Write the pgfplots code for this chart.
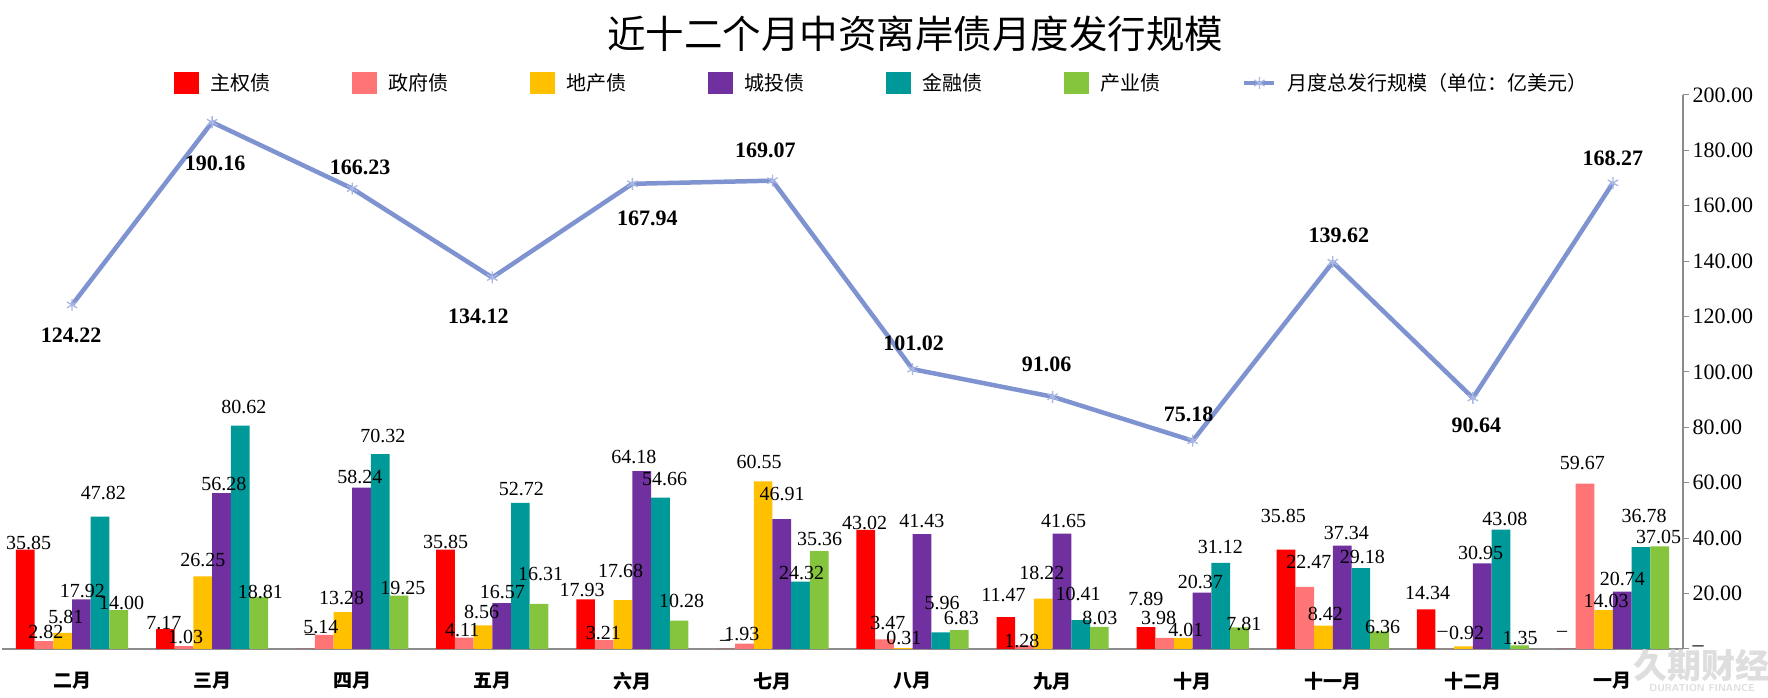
\documentclass[border=0pt]{standalone}
\usepackage{fontspec}
\setmainfont{Liberation Serif}
\newfontfamily\cjk{Noto Sans CJK SC}
\usepackage{pgfplots}
\usepackage{pgfplotstable}
\pgfplotsset{compat=1.18}

\definecolor{cZQ}{HTML}{FF0000}
\definecolor{cZF}{HTML}{FF7474}
\definecolor{cDC}{HTML}{FFC000}
\definecolor{cCT}{HTML}{7030A0}
\definecolor{cJR}{HTML}{009999}
\definecolor{cCY}{HTML}{84C53D}
\definecolor{cLine}{HTML}{7F93D1}
\definecolor{cMark}{HTML}{A9B7E3}
\definecolor{cAxis}{HTML}{8C8C8C}

% columns: month index, value, label text, label offset x / y (pt)
\pgfplotstableread{
x y lab dx dy
0 35.85 35.85 3.4 6.4
1 7.17 7.17 -1.5 5.8
2 0 -- 4.7 12.3
3 35.85 35.85 0 8
4 17.93 17.93 -3.6 9.3
5 0 -- -0.6 5.7
6 43.02 43.02 -1.3 7.1
7 11.47 11.47 -2.4 22.2
8 7.89 7.89 0 27.8
9 35.85 35.85 -2.7 33.7
10 14.34 14.34 1.6 16.6
11 0 -- -4 15
}\tabZQ
\pgfplotstableread{
x y lab dx dy
0 2.82 2.82 1.9 8.9
1 1.03 1.03 1.6 9.4
2 5.14 5.14 -3.3 8
3 4.11 4.11 -2 7.6
4 3.21 3.21 -1 6.8
5 1.93 1.93 -2.5 9.7
6 3.47 3.47 3.3 16.7
7 1.28 1.28 -2.7 4.8
8 3.98 3.98 -6 19.7
9 22.47 22.47 4.2 25.1
10 0 -- -2.2 15
11 59.67 59.67 -2.5 20.4
}\tabZF
\pgfplotstableread{
x y lab dx dy
0 5.81 5.81 3.1 16.2
1 26.25 26.25 0 16.3
2 13.28 13.28 -1.3 13.9
3 8.56 8.56 -1.3 13
4 17.68 17.68 -2.5 29.3
5 60.55 60.55 -4 19.6
6 0.31 0.31 0.7 9.8
7 18.22 18.22 -1.5 25.2
8 4.01 4.01 2.6 7.9
9 8.42 8.42 1.9 11.7
10 0.92 0.92 3.1 13.2
11 14.03 14.03 2.4 9.4
}\tabDC
\pgfplotstableread{
x y lab dx dy
0 17.92 17.92 0.9 8.4
1 56.28 56.28 2.5 9.1
2 58.24 58.24 -1.7 11
3 16.57 16.57 0.7 10.8
4 64.18 64.18 -7.8 14.5
5 46.91 46.91 0.3 25.1
6 41.43 41.43 0 13.2
7 41.65 41.65 1.6 12.9
8 20.37 20.37 -1.6 11
9 37.34 37.34 4.2 12.3
10 30.95 30.95 -1.5 10.6
11 20.74 20.74 0 12.2
}\tabCT
\pgfplotstableread{
x y lab dx dy
0 47.82 47.82 3.2 23.2
1 80.62 80.62 3.7 18.4
2 70.32 70.32 2.6 18.5
3 52.72 52.72 1.1 13.7
4 54.66 54.66 4.1 18.6
5 24.32 24.32 1.1 8.3
6 5.96 5.96 1.6 29.8
7 10.41 10.41 -2.6 26.2
8 31.12 31.12 -0.5 16.1
9 29.18 29.18 1.5 11.5
10 43.08 43.08 3.9 10.4
11 36.78 36.78 3.2 31.1
}\tabJR
\pgfplotstableread{
x y lab dx dy
0 14.00 14.00 2.9 7.5
1 18.81 18.81 1.4 5.2
2 19.25 19.25 3.8 7.4
3 16.31 16.31 1.6 29.5
4 10.28 10.28 2.6 19.8
5 35.36 35.36 0.4 12.1
6 6.83 6.83 2 11.8
7 8.03 8.03 0.5 8.5
8 7.81 7.81 4.5 3.4
9 6.36 6.36 3 4.1
10 1.35 1.35 0.4 7
11 37.05 37.05 -1 9.1
}\tabCY
\pgfplotstableread{
x y lab dx dy
0 124.22 124.22 -1 -30
1 190.16 190.16 3 -41
2 166.23 166.23 8 21
3 134.12 134.12 -14 -39
4 167.94 167.94 15 -34.5
5 169.07 169.07 -7 30
6 101.02 101.02 1 26
7 91.06 91.06 -6 32
8 75.18 75.18 -4 26.7
9 139.62 139.62 6 27
10 90.64 90.64 3.5 -27
11 168.27 168.27 0 25
}\tabTotal

\pgfplotsset{
  sqlegend/.style={legend image code/.code={\fill[##1] (0pt,-11pt) rectangle (25pt,11pt);}},
  linelegend/.style={legend image code/.code={\draw[mark repeat=2, mark phase=2, ##1]
      plot coordinates {(-2.5pt,0pt) (12.5pt,0pt) (27.5pt,0pt)};}},
}
\def\ldx{0}\def\ldy{0}

\begin{document}
\begin{tikzpicture}
\path[use as bounding box] (0pt,0pt) rectangle (1768pt,698pt);
\node[font=\cjk\fontsize{38.5}{40}\selectfont] at (915pt,664pt) {近十二个月中资离岸债月度发行规模};
\begin{axis}[
  at={(2pt,49pt)}, anchor=south west,
  scale only axis, width=1681pt, height=554pt,
  xmin=-0.5, xmax=11.5, ymin=0, ymax=200,
  ybar=0pt, bar width=18.7pt,
  axis x line*=bottom, axis y line*=right,
  axis line style={draw=cAxis, line width=1.2pt, -},
  xtick={0,...,11},
  xticklabels={二月,三月,四月,五月,六月,七月,八月,九月,十月,十一月,十二月,一月},
  xtick style={draw=none},
  xticklabel style={font=\cjk\bfseries\fontsize{19}{22}\selectfont, anchor=center, yshift=-26pt},
  ytick={0,20,...,200},
  yticklabels={--,20.00,40.00,60.00,80.00,100.00,120.00,140.00,160.00,180.00,200.00},
  ytick style={draw=cAxis, line width=1pt},
  tick align=outside, major tick length=6pt,
  yticklabel style={font=\fontsize{22}{24}\selectfont, anchor=west},
  clip=false,
  nodes near coords, point meta=explicit symbolic,
  visualization depends on={\thisrow{dx} \as \ldx},
  visualization depends on={\thisrow{dy} \as \ldy},
  every node near coord/.append style={font=\fontsize{20}{22}\selectfont, anchor=center,
    xshift=\ldx pt, yshift=\ldy pt, inner sep=0pt, text=black},
  legend entries={主权债,政府债,地产债,城投债,金融债,产业债,月度总发行规模（单位：亿美元）},
  legend style={at={(axis description cs:0.1023,1.0217)}, anchor=west, draw=none, fill=none,
    legend columns=-1, inner sep=0pt, font=\cjk\fontsize{20}{22}\selectfont,
    nodes={inner sep=0pt},
    /tikz/every odd column/.append style={column sep=11pt},
    /tikz/every even column/.append style={column sep=82pt}},
]
\addplot[fill=cZQ, draw=none, sqlegend] table[x=x, y=y, meta=lab] {\tabZQ};
\addplot[fill=cZF, draw=none, sqlegend] table[x=x, y=y, meta=lab] {\tabZF};
\addplot[fill=cDC, draw=none, sqlegend] table[x=x, y=y, meta=lab] {\tabDC};
\addplot[fill=cCT, draw=none, sqlegend] table[x=x, y=y, meta=lab] {\tabCT};
\addplot[fill=cJR, draw=none, sqlegend] table[x=x, y=y, meta=lab] {\tabJR};
\addplot[fill=cCY, draw=none, sqlegend] table[x=x, y=y, meta=lab] {\tabCY};
\addplot[sharp plot, draw=cLine, line width=4.5pt, line join=round,
  mark=asterisk, mark size=6pt, mark options={draw=cMark, line width=1.3pt},
  every node near coord/.append style={font=\bfseries\fontsize{22}{24}\selectfont},
  linelegend]
  table[x=x, y=y, meta=lab] {\tabTotal};
\end{axis}
% faint publisher mark in the lower right corner
\node[text=black!13, font=\cjk\bfseries\fontsize{34}{36}\selectfont] at (1701pt,32pt) {久期财经};
\node[text=black!13, font=\sffamily\bfseries\fontsize{10}{12}\selectfont] at (1702pt,10pt) {DURATION FINANCE};
\end{tikzpicture}
\end{document}
